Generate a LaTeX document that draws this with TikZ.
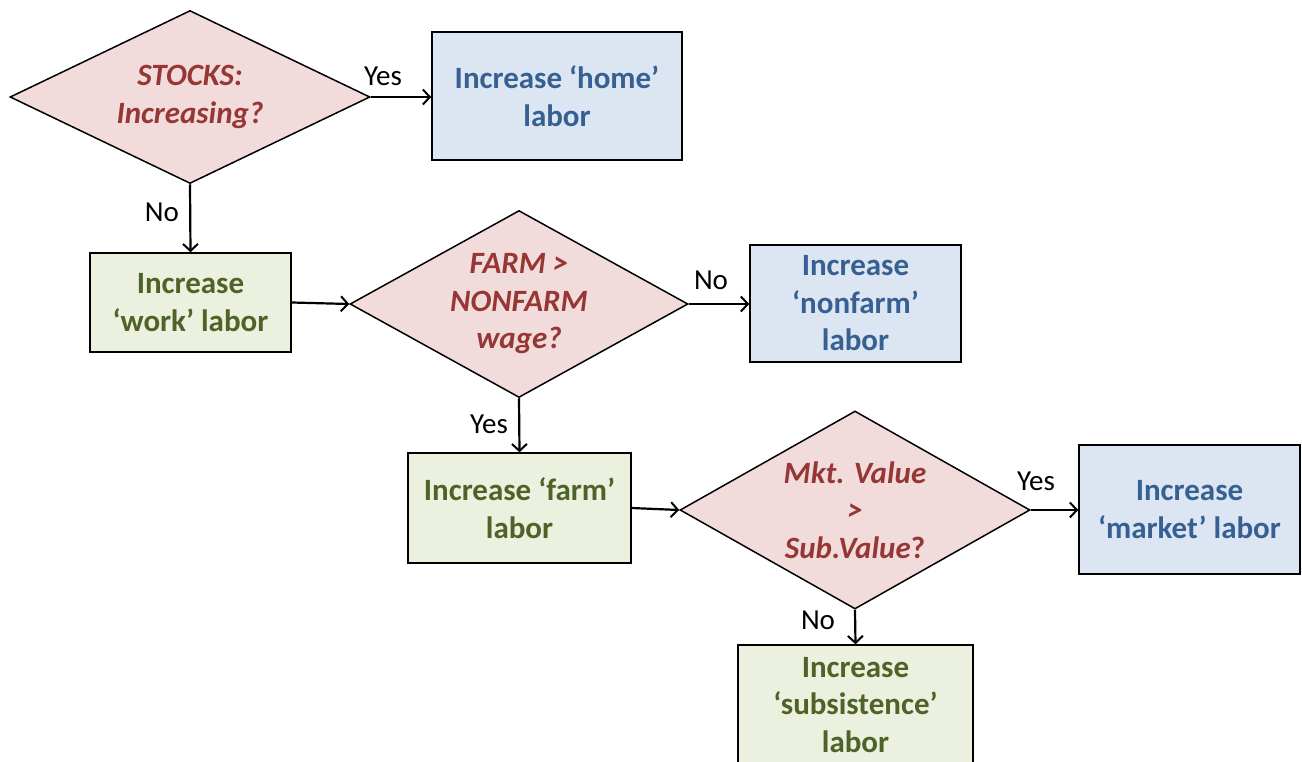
\documentclass[tikz,border=0pt]{standalone}
\usepackage{fontspec}
\setmainfont{Carlito}
\usetikzlibrary{shapes.geometric,arrows.meta}
\definecolor{pinkfill}{RGB}{242,220,219}
\definecolor{bluefill}{RGB}{220,230,242}
\definecolor{greenfill}{RGB}{235,241,222}
\definecolor{redtext}{RGB}{150,55,53}
\definecolor{bluetext}{RGB}{55,96,146}
\definecolor{greentext}{RGB}{79,98,40}
\begin{document}
\begin{tikzpicture}[x=1pt,y=-1pt,
  dia/.style={diamond,draw=black,line width=1.5pt,fill=pinkfill,inner sep=0pt},
  dtext/.style={align=center,text=redtext,font=\fontsize{31}{37.5}\selectfont\bfseries\itshape,inner sep=0pt},
  bluebox/.style={rectangle,draw=black,line width=1.5pt,fill=bluefill,inner sep=0pt,align=center,text=bluetext,font=\fontsize{31}{37.5}\selectfont\bfseries},
  greenbox/.style={rectangle,draw=black,line width=1.5pt,fill=greenfill,inner sep=0pt,align=center,text=greentext,font=\fontsize{31}{37.5}\selectfont\bfseries},
  arr/.style={line width=2.2pt,-{Straight Barb[length=7pt,width=15pt,line width=2pt]}},
  lbl/.style={font=\fontsize{29}{32}\selectfont,inner sep=0pt}]
\path[use as bounding box] (0,0) rectangle (1302,761);
\clip (0,0) rectangle (1302,761);
\fill[white] (0,0) rectangle (1302,761);

% diamonds
\node[dia,minimum width=360pt,minimum height=173pt,
  label={[dtext]center:{STOCKS:\\Increasing?}}] (d1) at (190,97) {};
\node[dia,minimum width=338pt,minimum height=187pt,
  label={[dtext]center:{FARM >\\NONFARM\\wage?}}] (d2) at (519,304) {};
\node[dia,minimum width=350pt,minimum height=198pt,
  label={[dtext]center:{Mkt. Value\\>\\Sub.Value\upshape ?}}] (d3) at (855,510) {};

% boxes
\node[bluebox,minimum width=250pt,minimum height=128pt] (home) at (557,96) {Increase ‘home’\\labor};
\node[greenbox,minimum width=201pt,minimum height=99pt] (work) at (190.5,302.5) {Increase\\‘work’ labor};
\node[bluebox,minimum width=211pt,minimum height=117pt] (nonfarm) at (855.5,303.5) {Increase\\‘nonfarm’\\labor};
\node[greenbox,minimum width=223pt,minimum height=110pt] (farm) at (519.5,508) {Increase ‘farm’\\labor};
\node[bluebox,minimum width=221pt,minimum height=129pt] (market) at (1189.5,509.5) {Increase\\‘market’ labor};
\node[greenbox,minimum width=235pt,minimum height=120pt] (subs) at (855.5,705) {Increase\\‘subsistence’\\labor};

% connectors
\draw[arr] (d1.east) -- (d1.east -| home.west);
\draw[arr] (d1.south) -- (work.north);
\draw[arr] (work.east) -- (d2.west);
\draw[arr] (d2.east) -- (d2.east -| nonfarm.west);
\draw[arr] (d2.south) -- (farm.north);
\draw[arr] (farm.east) -- (d3.west);
\draw[arr] (d3.east) -- (d3.east -| market.west);
\draw[arr] (d3.south) -- (subs.north);

% labels
\node[lbl] (y1) at (383,76) {Yes};
\node[lbl] (n1) at (162,212) {No};
\node[lbl] (n2) at (711,280) {No};
\node[lbl] (y2) at (489,424) {Yes};
\node[lbl] (y3) at (1036,481) {Yes};
\node[lbl] (n3) at (818,620) {No};
\end{tikzpicture}
\end{document}
